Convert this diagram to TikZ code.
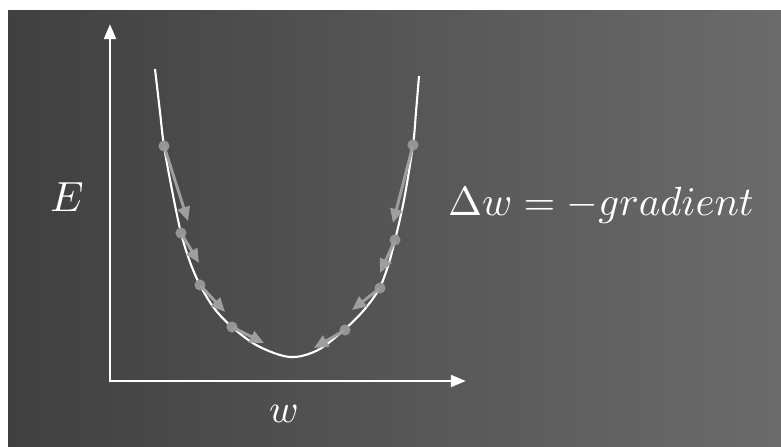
\documentclass[tikz,border=0pt]{standalone}
\usetikzlibrary{arrows.meta}
\begin{document}
\begin{tikzpicture}[x=0.03cm,y=-0.03cm,
  axisline/.style={draw=white, line width=2.5pt, -{Triangle[length=13pt,width=10pt]}},
  curveline/.style={draw=white, line width=1.8pt},
  dot/.style={circle, fill=black!42, inner sep=0pt, minimum size=9.5pt},
  grad/.style={draw=black!38, line width=2.5pt, shorten <=1pt, -{Triangle[length=12pt,width=10.5pt]}},
  lbl/.style={text=white, inner sep=0pt}
  ]
\fill[white] (0,0) rectangle (781,447);
\shade[left color=black!75, right color=black!58] (8,10) rectangle (781,447);
\useasboundingbox (0,0) rectangle (781,447);

% axes
\coordinate (O) at (110,381);
\coordinate (ytip) at (110,24);
\coordinate (xtip) at (466,381);
\draw[axisline] ([yshift=-1.2pt]O) -- (ytip);
\draw[axisline] ([xshift=-1.2pt]O) -- (xtip);

% curve
\draw[curveline] plot[smooth,tension=0.55] coordinates {(155,69) (160,112) (164,146) (172,190) (181,233) (190,262) (200,285) (214,308) (232,327) (258,346) (290,357) (318,350) (345,329) (364,310) (379,289) (388,266) (395,240) (404,200) (413,145) (416,112) (419,76)};

% left dots and gradient arrows
\node[dot] (l1) at (164,146) {};
\node[dot] (l2) at (181,233) {};
\node[dot] (l3) at (200,285) {};
\node[dot] (l4) at (232,327) {};
\coordinate (tl1) at (188,221);
\coordinate (tl2) at (199,263);
\coordinate (tl3) at (225,312);
\coordinate (tl4) at (264,343);
\draw[grad] (l1.center) -- (tl1);
\draw[grad] (l2.center) -- (tl2);
\draw[grad] (l3.center) -- (tl3);
\draw[grad] (l4.center) -- (tl4);

% right dots and gradient arrows
\node[dot] (r1) at (413,145) {};
\node[dot] (r2) at (395,240) {};
\node[dot] (r3) at (380,288) {};
\node[dot] (r4) at (345,330) {};
\coordinate (tr1) at (393,223);
\coordinate (tr2) at (380,273);
\coordinate (tr3) at (352,310);
\coordinate (tr4) at (314,348);
\draw[grad] (r1.center) -- (tr1);
\draw[grad] (r2.center) -- (tr2);
\draw[grad] (r3.center) -- (tr3);
\draw[grad] (r4.center) -- (tr4);

% labels
\node[lbl, scale=3.6] (E) at (67,197) {$E$};
\node[lbl, scale=3.4] (W) at (284,414) {$w$};
\node[lbl, scale=3.48, anchor=base] (eq) at (601,215) {$\Delta w = -gradient$};
\end{tikzpicture}
\end{document}
